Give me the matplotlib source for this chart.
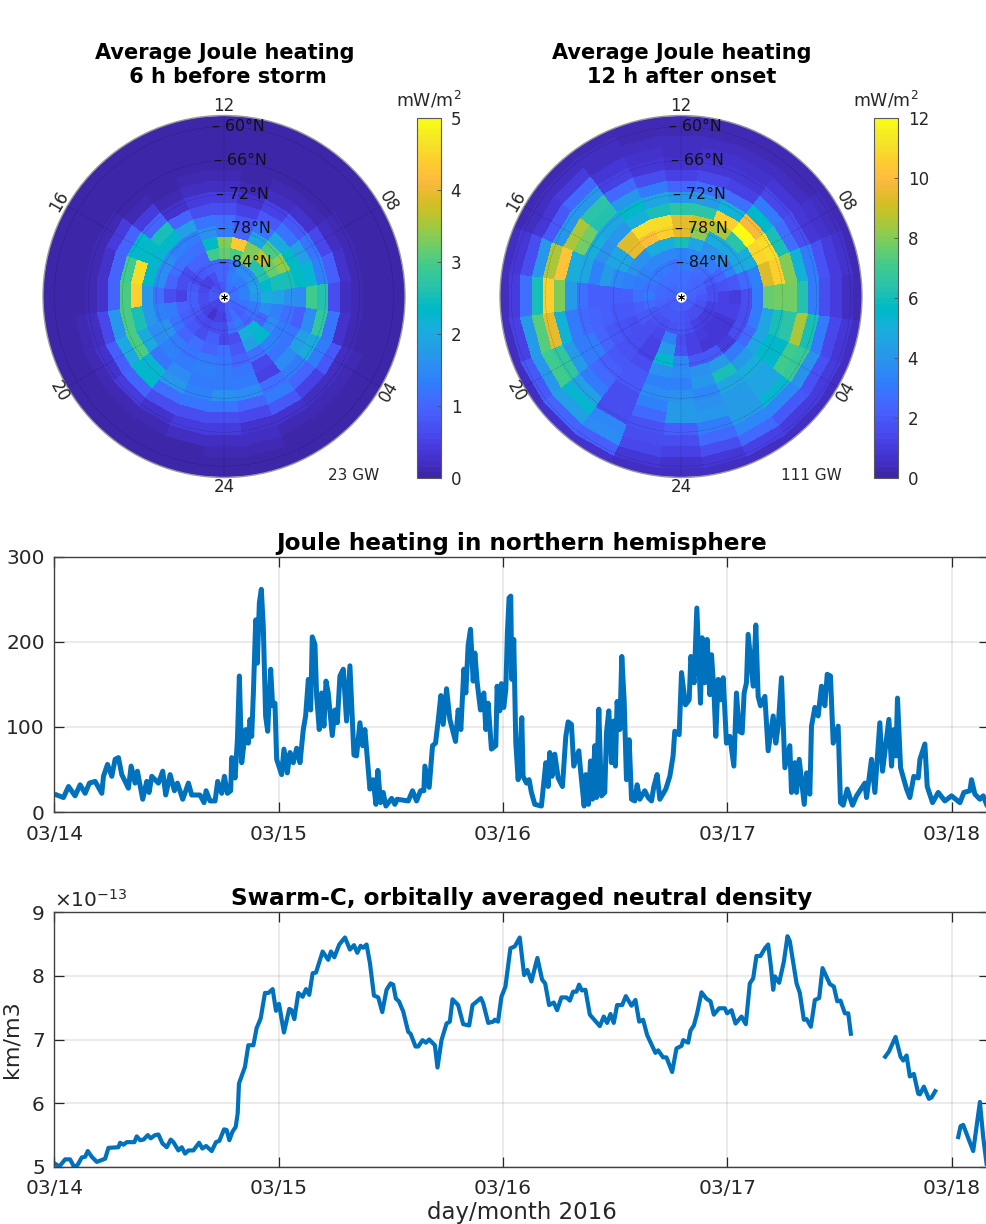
import numpy as np
import matplotlib
matplotlib.use('Agg')
import matplotlib.pyplot as plt
from matplotlib.colors import ListedColormap

W, H = 987, 1224

parula = ListedColormap([
    (0.2422, 0.1504, 0.6603), (0.2504, 0.1650, 0.7076), (0.2578, 0.1818, 0.7511), (0.2647, 0.1978, 0.7952),
    (0.2706, 0.2147, 0.8364), (0.2751, 0.2342, 0.8710), (0.2783, 0.2559, 0.8991), (0.2803, 0.2782, 0.9221),
    (0.2813, 0.3006, 0.9414), (0.2810, 0.3228, 0.9579), (0.2795, 0.3447, 0.9717), (0.2760, 0.3667, 0.9829),
    (0.2699, 0.3892, 0.9906), (0.2602, 0.4123, 0.9952), (0.2440, 0.4358, 0.9988), (0.2206, 0.4603, 0.9973),
    (0.1963, 0.4847, 0.9892), (0.1834, 0.5074, 0.9798), (0.1786, 0.5289, 0.9682), (0.1764, 0.5499, 0.9520),
    (0.1687, 0.5703, 0.9359), (0.1540, 0.5902, 0.9218), (0.1460, 0.6091, 0.9079), (0.1380, 0.6276, 0.8973),
    (0.1248, 0.6459, 0.8883), (0.1113, 0.6635, 0.8763), (0.0952, 0.6798, 0.8598), (0.0689, 0.6948, 0.8394),
    (0.0297, 0.7082, 0.8163), (0.0036, 0.7203, 0.7917), (0.0067, 0.7312, 0.7660), (0.0433, 0.7411, 0.7394),
    (0.0964, 0.7500, 0.7120), (0.1408, 0.7584, 0.6842), (0.1717, 0.7670, 0.6554), (0.1938, 0.7758, 0.6251),
    (0.2161, 0.7843, 0.5923), (0.2470, 0.7918, 0.5567), (0.2906, 0.7973, 0.5188), (0.3406, 0.8008, 0.4789),
    (0.3909, 0.8029, 0.4354), (0.4456, 0.8024, 0.3909), (0.5044, 0.7993, 0.3480), (0.5616, 0.7942, 0.3045),
    (0.6174, 0.7876, 0.2612), (0.6720, 0.7793, 0.2227), (0.7242, 0.7698, 0.1910), (0.7738, 0.7598, 0.1646),
    (0.8203, 0.7498, 0.1535), (0.8634, 0.7406, 0.1596), (0.9035, 0.7330, 0.1774), (0.9393, 0.7288, 0.2100),
    (0.9728, 0.7298, 0.2394), (0.9956, 0.7434, 0.2371), (0.9970, 0.7659, 0.2199), (0.9952, 0.7861, 0.1967),
    (0.9892, 0.8136, 0.1816), (0.9786, 0.8386, 0.1717), (0.9676, 0.8639, 0.1647), (0.9610, 0.8890, 0.1537),
    (0.9597, 0.9135, 0.1423), (0.9628, 0.9373, 0.1265), (0.9691, 0.9606, 0.1064), (0.9769, 0.9839, 0.0805)])

# ring edges in degrees from the pole, sectors are one hour of MLT centred on the hour
ring_edges = [0.8, 2.8, 4.8, 6.8, 8.8, 10.8, 12.8, 14.8, 16.8, 18.8, 20.8, 22.8, 24.8, 26.8, 28.8, 30.8, 32.8]
mlt_edges = [h - 0.5 for h in range(25)]

# one row per MLT hour 0..23, pole to equatorward
before_storm = [
    [.7, .5, .7, .6, 1.1, 1.2, 1.3, 1.3, 1.6, 1.2, .7, .4, .2, .1, .05, .05],
    [.9, .9, 1.1, .7, .8, 1.0, 1.2, 1.3, 1.5, 1.0, .6, .3, .2, .1, .05, .05],
    [1.0, 1.1, 1.3, 2.1, 1.8, 1.1, .6, .5, 1.1, 1.3, .8, .3, .1, .05, .05, .05],
    [1.0, .9, 1.0, 2.2, 2.3, 1.4, 1.2, 1.5, 1.3, 1.0, .5, .2, .1, .05, .05, .05],
    [1.0, 1.0, 1.1, 1.0, 1.5, 1.3, 1.2, 1.8, 2.0, 1.3, .8, .2, .1, .05, .05, .05],
    [1.1, 1.2, 1.3, 1.5, 1.4, 1.1, .9, 1.5, 2.8, 1.2, .3, .1, .05, .05, .05, .05],
    [1.2, 1.4, 1.7, 2.1, 1.9, 1.6, 1.5, 2.9, 2.6, .7, .2, .1, .05, .05, .05, .05],
    [1.2, 1.4, 1.8, 2.3, 2.5, 2.5, 2.4, 2.2, 1.4, .9, .3, .1, .05, .05, .05, .05],
    [1.1, 1.3, 1.7, 2.6, 3.2, 3.4, 2.4, 1.8, 1.2, .6, .2, .1, .05, .05, .05, .05],
    [1.0, 1.3, 1.5, 2.6, 3.7, 3.0, 2.0, 1.2, .8, .3, .1, .05, .05, .05, .05, .05],
    [1.2, 1.4, 1.5, 3.4, 3.3, 1.9, 1.2, .8, .5, .2, .1, .05, .05, .05, .05, .05],
    [1.1, 1.3, 1.2, 3.0, 4.3, 1.0, .8, .5, .3, .1, .05, .05, .05, .05, .05, .05],
    [.9, 1.0, 1.0, 3.2, 3.3, 1.3, 1.1, .7, .4, .2, .1, .05, .05, .05, .05, .05],
    [.8, 1.0, 1.0, 2.9, 2.4, 1.6, 1.2, .7, .4, .2, .1, .05, .05, .05, .05, .05],
    [.6, .7, .9, 1.0, 1.1, 1.3, 1.8, 1.0, .3, .1, .05, .05, .05, .05, .05, .05],
    [.7, .5, .8, 1.0, 1.2, 1.4, 2.3, 2.5, 1.0, .4, .1, .05, .05, .05, .05, .05],
    [.8, .5, .6, .7, 1.1, 1.5, 2.2, 2.4, 2.3, 1.0, .4, .15, .05, .05, .05, .05],
    [.8, .6, .8, .7, 1.0, 1.5, 2.3, 4.6, 2.9, 1.0, .3, .1, .05, .05, .05, .05],
    [.8, .7, .9, .5, .7, 1.1, 1.7, 4.4, 3.0, 1.0, .3, .1, .05, .05, .05, .05],
    [.8, .7, .9, 1.0, 1.3, 1.4, 1.7, 2.5, 3.0, 1.7, .6, .2, .1, .05, .05, .05],
    [.7, .6, .8, .9, 1.2, 1.6, 1.5, 2.0, 3.0, 2.0, .9, .3, .1, .05, .05, .05],
    [.6, .5, .7, .8, 1.0, 1.3, 1.4, 1.2, 2.2, 2.3, 1.0, .4, .1, .05, .05, .05],
    [.5, .3, .6, .7, 1.1, 1.2, 1.3, 1.5, 1.7, 1.1, .7, .3, .1, .05, .05, .05],
    [.6, .5, .7, .9, 1.0, 1.3, 1.4, 1.3, 1.4, 1.2, .7, .4, .2, .05, .05, .05],
]
after_onset = [
    [2.3, 2.0, 1.9, 1.6, 1.8, 3.5, 3.6, 3.3, 3.8, 4.2, 4.2, 2.2, 1.6, 1.2, .7, .4],
    [2.2, 1.8, 1.5, 1.2, 1.3, 2.0, 3.8, 4.0, 3.4, 3.8, 4.0, 3.0, 2.6, 1.5, .9, .4],
    [2.1, 1.6, 1.2, 1.0, .9, 2.0, 4.3, 6.0, 4.5, 4.3, 4.3, 4.2, 3.4, 2.5, 1.3, .5],
    [2.2, 1.6, 1.0, .9, .8, 1.0, 3.0, 4.2, 5.0, 4.5, 4.5, 5.4, 3.4, 2.0, 1.1, .5],
    [2.2, 1.6, 1.0, .9, .9, 1.5, 2.5, 4.5, 5.6, 5.5, 7.0, 6.8, 3.8, 1.7, 1.0, .5],
    [2.2, 1.8, 1.2, 1.3, 1.3, 1.6, 3.0, 4.5, 6.0, 6.5, 8.5, 6.0, 3.0, 1.4, .8, .4],
    [2.3, 2.0, 1.5, 1.2, 1.1, 1.6, 3.0, 7.6, 7.8, 7.7, 6.2, 3.0, 1.6, 1.0, .5, .3],
    [2.4, 2.2, 1.6, 1.7, 1.9, 2.6, 3.2, 9.3, 10.5, 8.0, 5.2, 3.0, 1.8, 1.0, .6, .3],
    [2.5, 2.3, 2.0, 2.4, 3.2, 4.5, 5.0, 10.7, 11.0, 6.0, 2.8, 1.6, .9, .6, .4, .3],
    [2.5, 2.4, 2.6, 3.0, 3.8, 4.5, 6.5, 12.0, 9.8, 5.5, 3.0, 1.4, .8, .5, .3, .3],
    [2.6, 2.6, 2.8, 3.4, 3.8, 5.0, 8.5, 10.5, 5.2, 2.8, 1.2, .9, .6, .4, .3, .3],
    [2.7, 2.8, 3.0, 3.4, 4.6, 8.2, 9.0, 6.5, 4.2, 2.8, 1.4, .8, .6, .4, .3, .3],
    [2.8, 2.8, 3.0, 3.2, 6.0, 9.5, 9.5, 6.5, 4.0, 2.4, 1.2, .7, .5, .4, .3, .3],
    [2.7, 2.7, 2.8, 3.4, 5.0, 10.5, 11.0, 6.0, 4.5, 3.0, 1.5, .9, .7, .5, .3, .3],
    [2.6, 2.8, 3.0, 3.4, 5.0, 10.0, 11.0, 5.0, 5.5, 4.0, 2.6, 1.2, .8, .5, .4, .3],
    [2.5, 2.8, 2.9, 3.4, 3.8, 9.5, 9.3, 4.0, 4.5, 6.2, 6.5, 4.0, 2.5, 1.0, .4, .3],
    [2.4, 2.8, 3.0, 3.2, 3.8, 4.6, 4.6, 3.8, 5.0, 7.8, 8.5, 4.0, 2.0, .8, .5, .3],
    [2.3, 2.6, 2.8, 3.0, 3.2, 3.5, 4.2, 3.2, 4.5, 5.0, 10.3, 8.5, 4.0, 1.5, .9, .4],
    [2.3, 2.6, 3.0, 2.7, 2.2, 2.2, 2.2, 2.2, 2.8, 4.3, 8.0, 10.5, 6.0, 2.8, 1.0, .4],
    [2.2, 2.4, 2.6, 2.2, 1.9, 1.9, 2.1, 2.3, 2.5, 3.0, 5.2, 9.5, 7.4, 4.2, 1.2, .5],
    [2.2, 2.2, 2.0, 1.9, 1.6, 1.7, 2.0, 2.4, 3.0, 3.0, 4.3, 6.7, 7.0, 4.0, 2.0, .5],
    [2.2, 2.0, 1.8, 1.6, 1.5, 1.5, 1.8, 2.0, 2.2, 2.6, 3.0, 4.4, 5.4, 4.4, 2.4, .6],
    [2.1, 1.9, 1.6, 1.4, 1.2, 1.3, 1.6, 1.9, 2.0, 1.5, 1.5, 1.5, 3.4, 3.6, 2.2, .7],
    [2.2, 2.0, 1.7, 3.2, 4.2, 5.5, 3.8, 3.2, 3.6, 3.2, 2.6, 1.8, 1.6, 1.4, .9, .5],
]

hour_labels = ['24', '04', '08', '12', '16', '20']
hour_ticks = [0, 4, 8, 12, 16, 20]
lat_labels = ['60°N', '66°N', '72°N', '78°N', '84°N']
lat_colat = [30, 24, 18, 12, 6]

days = ['03/14', '03/15', '03/16', '03/17', '03/18']

joule_hours = [
    .25, .96, 1.5, 2.2, 2.74, 3.28, 3.74, 4.35, 5.06, 5.24, 5.67, 6.13, 6.49, 6.84, 7.2, 7.91, 8.2, 8.62, 8.87, 9.44,
    9.87, 10.12, 10.41, 11.12, 11.58, 11.9, 12.37, 12.83, 13.15, 13.72, 14.33, 14.68, 15.57, 16.0, 16.22, 16.64,
    17.18, 17.46, 17.89, 18.18, 18.5, 18.85, 18.96, 19.32, 19.57, 19.78, 20.03, 20.46, 20.74, 20.92, 21.1, 21.28,
    21.53, 21.7, 21.92, 22.13, 22.34, 22.59, 22.81, 23.13, 23.34, 23.59, 23.77, 24.3, 24.55, 24.91, 25.2, 25.55,
    25.91, 26.27, 26.62, 26.87, 27.16, 27.41, 27.58, 27.87, 28.05, 28.33, 28.58, 28.83, 29.05, 29.29, 29.72, 30.0,
    30.26, 30.54, 30.9, 31.25, 31.61, 32.04, 32.32, 32.68, 32.97, 33.21, 33.75, 34.1, 34.39, 34.6, 34.89, 35.17,
    35.46, 36.07, 36.42, 36.67, 37.85, 38.31, 38.74, 39.17, 39.52, 39.63, 40.09, 40.45, 40.77, 41.05, 41.34, 41.59,
    41.95, 42.3, 42.91, 43.19, 43.48, 43.8, 44.01, 44.26, 44.51, 44.8, 44.98, 45.23, 45.58, 45.94, 46.15, 46.4,
    46.75, 47.22, 47.36, 47.64, 47.82, 48.07, 48.29, 48.46, 48.64, 48.82, 48.93, 49.14, 49.36, 49.61, 49.78, 50.0,
    50.14, 50.5, 50.78, 51.03, 51.39, 52.1, 52.57, 52.82, 52.99, 53.24, 53.53, 53.89, 54.35, 54.71, 54.96, 55.31,
    55.56, 56.1, 56.28, 56.67, 56.85, 57.13, 57.35, 57.56, 57.81, 57.99, 58.24, 58.52, 58.88, 59.06, 59.31, 59.59,
    59.84, 60.02, 60.2, 60.49, 60.7, 60.95, 61.2, 61.49, 61.74, 62.09, 62.34, 62.63, 63.16, 63.52, 63.88, 64.13,
    64.48, 64.77, 65.41, 65.84, 66.19, 66.37, 66.84, 67.09, 67.51, 67.91, 68.09, 68.44, 68.73, 69.12, 69.3, 69.58,
    69.83, 70.12, 70.3, 70.55, 70.76, 71.01, 71.3, 71.55, 71.9, 72.26, 72.69, 72.97, 73.26, 73.58, 73.79, 74.04,
    74.22, 74.76, 75.04, 75.29, 75.54, 76.01, 76.36, 76.9, 77.18, 77.43, 77.79, 78.15, 78.68, 78.86, 79.22, 79.4,
    79.68, 80.22, 80.47, 80.82, 81.0, 81.36, 81.71, 82.07, 82.43, 82.68, 83.03, 83.32, 83.85, 84.1, 84.39, 84.82,
    85.39, 85.82, 86.71, 86.89, 87.42, 87.78, 88.31, 88.6, 89.28, 89.56, 89.81, 90.03, 90.2, 90.53, 91.17, 91.52,
    91.95, 92.42, 92.6, 93.13, 93.38, 93.95, 94.56, 95.27, 95.98, 96.88, 97.3, 97.95, 98.12, 98.48, 99.02, 99.37,
    99.73]
joule_power = [
    20, 17, 30, 19, 32, 22, 34, 36, 22, 42, 56, 42, 62, 64, 44, 28, 54, 34, 48, 15,
    36, 23, 42, 34, 48, 20, 44, 25, 34, 15, 34, 20, 20, 11, 25, 13,
    13, 36, 22, 42, 22, 25, 64, 40, 85, 160, 58, 97, 81, 109, 89, 140,
    226, 175, 246, 262, 218, 113, 95, 168, 125, 128, 62, 44, 74, 46, 70, 58,
    75, 58, 97, 113, 156, 120, 206, 197, 136, 97, 140, 101, 154, 140, 90, 120,
    105, 160, 168, 107, 172, 67, 66, 105, 78, 97, 27, 38, 9, 49, 11, 23,
    7, 16, 9, 15, 13, 25, 13, 25, 25, 54, 29, 78, 81, 107, 137, 103,
    145, 109, 83, 120, 97, 168, 140, 196, 215, 154, 187, 152, 120, 140, 97, 128,
    74, 78, 148, 119, 151, 123, 144, 211, 252, 254, 156, 203, 81, 38, 62, 111,
    42, 34, 38, 23, 9, 7, 58, 30, 70, 42, 68, 40, 30, 89, 106, 103,
    54, 72, 50, 7, 44, 9, 60, 15, 78, 17, 121, 19, 23, 93, 119, 58,
    107, 54, 130, 97, 183, 132, 38, 85, 15, 13, 32, 15, 25, 17, 13, 30,
    44, 15, 27, 42, 66, 95, 91, 164, 126, 132, 183, 152, 240, 128, 205, 152,
    203, 138, 185, 144, 89, 156, 132, 158, 81, 89, 54, 140, 95, 93, 140, 152,
    209, 148, 220, 136, 125, 136, 72, 113, 81, 101, 158, 52, 78, 23, 58, 23,
    62, 9, 46, 21, 101, 123, 113, 148, 125, 162, 160, 81, 101, 11, 8, 27,
    8, 19, 34, 17, 62, 23, 105, 48, 109, 54, 97, 66, 134, 52, 27, 17,
    42, 40, 62, 80, 30, 11, 23, 13, 19, 11, 23, 25, 38, 21, 15, 19,
    9]

density_hours = [
    .07, .53, 1.14, 1.67, 2.1, 2.46, 2.92, 3.28, 3.56, 3.99, 4.53, 5.42, 5.77, 6.84, 7.02, 7.38, 7.73, 8.55, 8.8, 9.16,
    9.52, 9.98, 10.3, 10.76, 11.12, 11.55, 12.01, 12.44, 12.72, 13.26, 13.61, 13.97, 14.33, 14.86, 15.47, 15.82,
    16.22, 16.82, 17.28, 17.64, 18.14, 18.42, 18.71, 19.03, 19.39, 19.6, 19.74, 20.38, 20.74, 21.28, 21.63, 22.06,
    22.52, 22.88, 23.34, 23.7, 24.02, 24.55, 25.12, 25.37, 25.66, 26.09, 26.55, 26.91, 27.26, 27.62, 27.98, 28.69,
    29.29, 29.58, 29.94, 30.47, 31.08, 31.61, 32.04, 32.4, 32.75, 33.04, 33.39, 33.75, 34.18, 34.64, 35.07, 35.53,
    35.96, 36.24, 36.53, 36.85, 37.31, 37.85, 38.1, 38.63, 38.92, 39.38, 39.74, 40.09, 40.7, 40.98, 41.41, 41.95,
    42.3, 42.59, 43.19, 43.73, 44.37, 44.73, 45.62, 45.87, 46.41, 46.94, 47.11, 47.46, 47.82, 48.25, 48.78, 49.25,
    49.78, 50.25, 50.6, 51.03, 51.67, 52.17, 52.5, 52.92, 53.42, 53.78, 54.24, 54.78, 55.14, 55.49, 55.85, 56.13,
    56.42, 56.81, 57.28, 58.35, 58.77, 59.13, 59.49, 59.84, 60.2, 60.74, 61.13, 61.74, 62.16, 62.56, 62.98, 63.41,
    64.3, 64.59, 65.12, 65.48, 66.09, 66.55, 67.09, 67.27, 67.8, 68.05, 68.41, 68.76, 69.23, 69.76, 70.19, 70.55,
    71.12, 71.72, 71.97, 72.44, 72.87, 73.51, 73.97, 74.4, 74.76, 75.11, 75.54, 76.01, 76.36, 76.65, 76.9, 77.08,
    77.54, 78.04, 78.43, 78.68, 79.4, 79.75, 80.18, 80.47, 80.93, 81.36, 81.82, 82.18, 82.96, 83.39, 83.75, 84.1,
    84.57, 84.93, 85.21, 87.0, 88.88, 89.28, 89.99, 90.53, 90.81, 91.17, 91.52, 91.95, 92.42, 92.6, 93.02, 93.56,
    93.84, 94.24, 95.5, 96.7, 96.95, 97.23, 98.3, 99.02, 99.37, 99.73]
density_vals = [
    5.05, 5.01, 5.12, 5.12, 5.0, 5.03, 5.15, 5.16, 5.25, 5.16, 5.08, 5.13, 5.3, 5.31, 5.38, 5.35, 5.39, 5.39, 5.48, 5.42,
    5.43, 5.5, 5.45, 5.5, 5.51, 5.37, 5.31, 5.43, 5.39, 5.26, 5.31, 5.21, 5.26, 5.26, 5.38, 5.29,
    5.33, 5.25, 5.39, 5.41, 5.59, 5.58, 5.42, 5.55, 5.63, 5.84, 6.31, 6.57, 6.91, 6.91, 7.18, 7.33,
    7.73, 7.73, 7.79, 7.45, 7.56, 7.11, 7.48, 7.46, 7.32, 7.73, 7.67, 7.79, 7.7, 8.04, 8.05, 8.38,
    8.25, 8.38, 8.29, 8.49, 8.6, 8.41, 8.48, 8.36, 8.47, 8.44, 8.49, 8.2, 7.69, 7.66, 7.43, 7.78,
    7.88, 7.86, 7.64, 7.6, 7.44, 7.12, 7.09, 6.89, 6.89, 6.99, 6.95, 7.0, 6.91, 6.56, 6.99, 7.25,
    7.28, 7.63, 7.54, 7.24, 7.22, 7.54, 7.65, 7.57, 7.26, 7.28, 7.31, 7.28, 7.67, 7.83, 8.43, 8.46,
    8.6, 8.01, 8.09, 7.91, 8.28, 7.94, 7.88, 7.54, 7.58, 7.46, 7.66, 7.66, 7.61, 7.75, 7.75, 7.86,
    7.77, 7.78, 7.39, 7.21, 7.36, 7.26, 7.4, 7.26, 7.54, 7.54, 7.68, 7.53, 7.62, 7.28, 7.31, 7.07,
    6.79, 6.83, 6.72, 6.72, 6.49, 6.86, 6.9, 6.99, 6.95, 7.14, 7.22, 7.41, 7.74, 7.64, 7.6, 7.39,
    7.49, 7.49, 7.41, 7.46, 7.25, 7.36, 7.24, 7.88, 7.96, 8.31, 8.31, 8.43, 8.49, 8.15, 7.78, 7.99,
    7.89, 8.22, 8.62, 8.54, 7.88, 7.73, 7.31, 7.32, 7.2, 7.62, 7.65, 8.12, 7.87, 7.83, 7.6, 7.61,
    7.41, 7.41, 7.09, np.nan, 6.73, 6.81, 7.04, 6.73, 6.67, 6.75, 6.42, 6.46, 6.15, 6.14, 6.26, 6.07,
    6.09, 6.19, np.nan, 5.47, 5.64, 5.66, 5.25, 6.02, 5.47, 5.05]

LINE = '#0072BD'
DARK = '#262626'


def rect(left, top, right, bottom):
    return [left / W, 1 - bottom / H, (right - left) / W, (bottom - top) / H]


def plot_polar(fig, cx, heat, vmax, cticks, title, power):
    r = 181
    ax = fig.add_axes(rect(cx - r, 296.5 - r, cx + r, 296.5 + r), projection='polar')
    ax.set_theta_zero_location('S')
    theta = np.radians(np.array(mlt_edges) * 15)
    mesh = ax.pcolormesh(theta, ring_edges, np.array(heat).T, cmap=parula, vmin=0, vmax=vmax,
                         edgecolors='face', linewidth=0.2)
    ax.set_ylim(0, 32)
    ax.set_xticks(np.radians(np.array(hour_ticks) * 15))
    ax.set_yticks(lat_colat)
    ax.set_xticklabels([])
    ax.set_yticklabels([])
    ax.tick_params(length=0)
    ax.grid(True, color='k', lw=0.35, ls=(0, (2.5, 2.5)), alpha=0.45)
    ax.set_axisbelow(False)
    ax.spines['polar'].set_color('0.6')
    ax.spines['polar'].set_linewidth(1.0)

    for h, lab in zip(hour_ticks, hour_labels):
        rot = {'12': 0, '24': 0, '16': 60, '04': 60, '08': -60, '20': -60}[lab]
        ax.text(np.radians(h * 15), 33.6, lab, fontsize=12, color=DARK, rotation=rot, rotation_mode='anchor',
                ha='center', va='center', clip_on=False)

    for lab, colat, dx in zip(lat_labels, lat_colat, [-12, -10, -8, -6, -5]):
        ax.annotate('– ' + lab, xy=(np.pi, colat), xytext=(dx, 0), textcoords='offset pixels',
                    fontsize=11.4, color='#111111', va='center', ha='left')

    ax.plot([0], [0], 'o', color='white', ms=7.5, mew=0, clip_on=False, zorder=5)
    ax.plot([0], [0], marker=(6, 2, 0), color='k', ms=5, mew=0.6, clip_on=False, zorder=6)

    fig.text((cx + 0.5) / W, 1 - 65 / H, title, fontsize=15, fontweight='bold', ha='center', va='center', linespacing=1.2)
    fig.text((cx + 130) / W, 1 - 475 / H, power, fontsize=11, color=DARK, ha='center', va='center')

    cax = fig.add_axes(rect(cx + 193, 118, cx + 217, 478))
    cbar = fig.colorbar(mesh, cax=cax)
    cbar.set_ticks(cticks)
    cbar.ax.tick_params(direction='in', length=3, width=0.6, labelsize=12, labelcolor=DARK, color='0.3', pad=7)
    cbar.outline.set_edgecolor('0.35')
    cbar.outline.set_linewidth(0.8)
    fig.text((cx + 205) / W, 1 - 100 / H, 'mW/m$^2$', fontsize=12.5, color=DARK, ha='center', va='center')


def style_line_axes(ax, title):
    # right edge sits just outside the figure, as in the cut-off original
    ax.set_xlim(0, (W + 2 - 54.5) / 224.3)
    ax.set_xticks(range(5))
    ax.set_xticklabels(days)
    ax.tick_params(direction='in', top=True, right=True, length=7, width=0.9, labelsize=14.5,
                   color=DARK, labelcolor=DARK, pad=9)
    ax.tick_params(axis='y', pad=7)
    ax.grid(True, color='k', alpha=0.1, lw=1.1)
    ax.set_axisbelow(True)
    for s in ax.spines.values():
        s.set_color('#404040')
        s.set_linewidth(1.0)
    ax.set_title(title, fontsize=16.7, fontweight='bold', pad=5)


def main():
    plt.rcParams['font.family'] = 'DejaVu Sans'
    plt.rcParams['mathtext.default'] = 'regular'
    fig = plt.figure(figsize=(W / 100, H / 100), dpi=100)

    plot_polar(fig, 224, before_storm, 5, [0, 1, 2, 3, 4, 5],
               'Average Joule heating\n 6 h before storm', '23 GW')
    plot_polar(fig, 681, after_onset, 12, [0, 2, 4, 6, 8, 10, 12],
               'Average Joule heating\n12 h after onset', '111 GW')

    ax1 = fig.add_axes(rect(54.5, 557, W + 2, 812))
    ax1.plot(np.array(joule_hours) / 24, joule_power, color=LINE, lw=3.6, solid_joinstyle='round')
    ax1.set_ylim(0, 300)
    ax1.set_yticks([0, 100, 200, 300])
    style_line_axes(ax1, 'Joule heating in northern hemisphere')

    ax2 = fig.add_axes(rect(54.5, 912, W + 2, 1167))
    ax2.plot(np.array(density_hours) / 24, density_vals, color=LINE, lw=3.0, solid_joinstyle='round')
    ax2.set_ylim(5, 9)
    ax2.set_yticks([5, 6, 7, 8, 9])
    style_line_axes(ax2, 'Swarm-C, orbitally averaged neutral density')
    ax2.set_ylabel('km/m3', fontsize=16, color=DARK, labelpad=7.5)
    ax2.set_xlabel('day/month 2016', fontsize=16.5, color=DARK, labelpad=2)
    ax2.text(0, 1.005, r'$\times$10$^{-13}$', transform=ax2.transAxes, fontsize=14.5, color=DARK, va='bottom', ha='left')

    fig.savefig('out.png', dpi=100)


if __name__ == '__main__':
    main()
